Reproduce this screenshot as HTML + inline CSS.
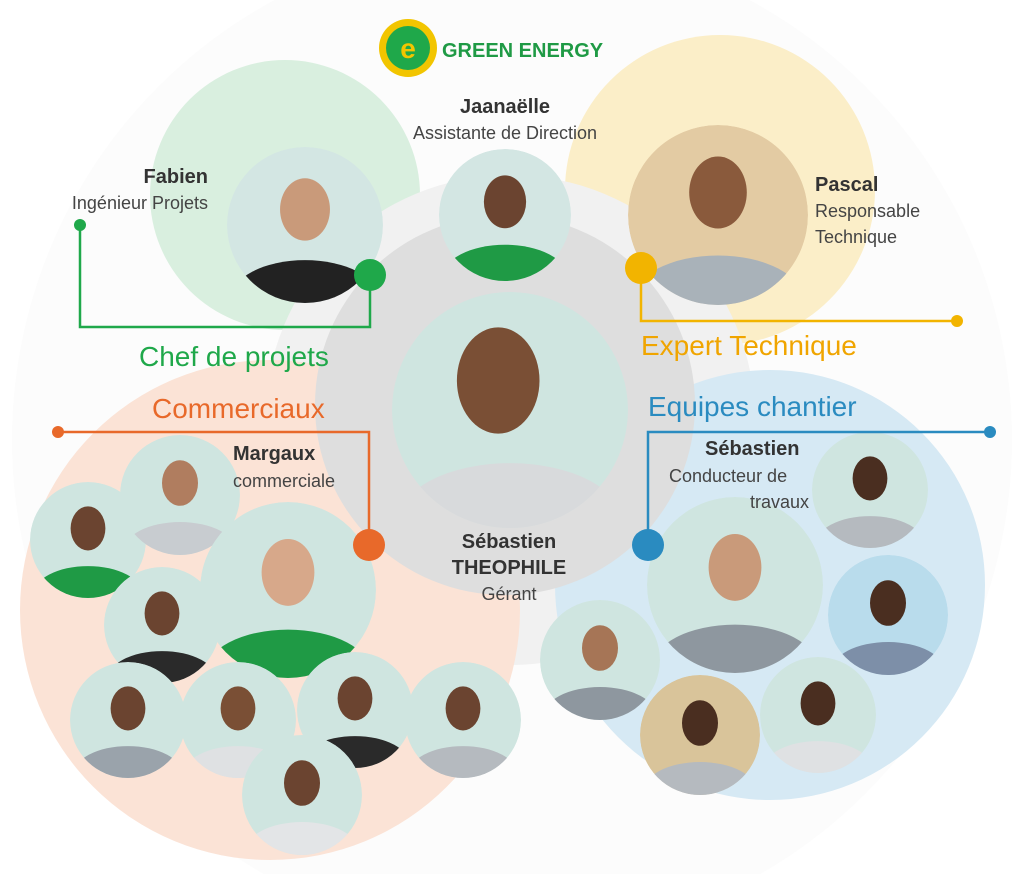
<!DOCTYPE html>
<html><head><meta charset="utf-8"><style>
html,body{margin:0;background:#fff;width:1024px;height:874px;overflow:hidden;}
svg{display:block;font-family:"Liberation Sans",sans-serif;}
.n{font-weight:bold;fill:#333;font-size:20px}
.r{fill:#444;font-size:18px}
</style></head><body>
<svg width="1024" height="874" viewBox="0 0 1024 874">
<defs>
<clipPath id="c"><circle r="1"/></clipPath>
</defs>
<rect width="1024" height="874" fill="#fff"/>
<circle cx="512" cy="440" r="500" fill="#fcfcfc"/>
<circle cx="285" cy="195" r="135" fill="#d9efdf"/>
<circle cx="720" cy="190" r="155" fill="#fbeec8"/>
<circle cx="510" cy="420" r="245" fill="#f1f1f1"/>
<circle cx="270" cy="610" r="250" fill="#fbe3d6"/>
<circle cx="770" cy="585" r="215" fill="#d6e9f4"/>
<circle cx="505" cy="405" r="190" fill="#dedede"/>

<g>
<g transform="translate(305,225) scale(78)"><g clip-path="url(#c)"><circle r="1" fill="#d3e6e3"/><ellipse cx="0" cy="-0.2" rx="0.32" ry="0.4" fill="#c99a7a"/><ellipse cx="0" cy="0.95" rx="0.95" ry="0.5" fill="#222"/></g></g>
<g transform="translate(505,215) scale(66)"><g clip-path="url(#c)"><circle r="1" fill="#d3e6e3"/><ellipse cx="0" cy="-0.2" rx="0.32" ry="0.4" fill="#6b4430"/><ellipse cx="0" cy="0.95" rx="0.95" ry="0.5" fill="#1f9a45"/></g></g>
<g transform="translate(718,215) scale(90)"><g clip-path="url(#c)"><circle r="1" fill="#e3cba3"/><ellipse cx="0" cy="-0.25" rx="0.32" ry="0.4" fill="#8a5a3c"/><ellipse cx="0" cy="0.95" rx="0.95" ry="0.5" fill="#a9b2b9"/></g></g>
<g transform="translate(510,410) scale(118)"><g clip-path="url(#c)"><circle r="1" fill="#cfe5e0"/><ellipse cx="-0.1" cy="-0.25" rx="0.35" ry="0.45" fill="#7a4f35"/><ellipse cx="0" cy="0.95" rx="0.95" ry="0.5" fill="#d8dadc"/></g></g>
</g>

<g id="team">
<g transform="translate(88,540) scale(58)"><g clip-path="url(#c)"><circle r="1" fill="#cfe5e0"/><ellipse cy="-0.2" rx="0.3" ry="0.38" fill="#6b4430"/><ellipse cy="0.95" rx="0.95" ry="0.5" fill="#1f9a45"/></g></g>
<g transform="translate(180,495) scale(60)"><g clip-path="url(#c)"><circle r="1" fill="#cfe5e0"/><ellipse cy="-0.2" rx="0.3" ry="0.38" fill="#b07d5f"/><ellipse cy="0.95" rx="0.95" ry="0.5" fill="#c8ccd0"/></g></g>
<g transform="translate(288,590) scale(88)"><g clip-path="url(#c)"><circle r="1" fill="#cfe5e0"/><ellipse cy="-0.2" rx="0.3" ry="0.38" fill="#d7a88a"/><ellipse cy="0.95" rx="0.95" ry="0.5" fill="#1f9a45"/></g></g>
<g transform="translate(162,625) scale(58)"><g clip-path="url(#c)"><circle r="1" fill="#cfe5e0"/><ellipse cy="-0.2" rx="0.3" ry="0.38" fill="#6b4430"/><ellipse cy="0.95" rx="0.95" ry="0.5" fill="#2a2a2a"/></g></g>
<g transform="translate(128,720) scale(58)"><g clip-path="url(#c)"><circle r="1" fill="#cfe5e0"/><ellipse cy="-0.2" rx="0.3" ry="0.38" fill="#6b4430"/><ellipse cy="0.95" rx="0.95" ry="0.5" fill="#9aa3ab"/></g></g>
<g transform="translate(238,720) scale(58)"><g clip-path="url(#c)"><circle r="1" fill="#cfe5e0"/><ellipse cy="-0.2" rx="0.3" ry="0.38" fill="#7a4f35"/><ellipse cy="0.95" rx="0.95" ry="0.5" fill="#dfe1e3"/></g></g>
<g transform="translate(355,710) scale(58)"><g clip-path="url(#c)"><circle r="1" fill="#cfe5e0"/><ellipse cy="-0.2" rx="0.3" ry="0.38" fill="#6b4430"/><ellipse cy="0.95" rx="0.95" ry="0.5" fill="#2a2a2a"/></g></g>
<g transform="translate(463,720) scale(58)"><g clip-path="url(#c)"><circle r="1" fill="#cfe5e0"/><ellipse cy="-0.2" rx="0.3" ry="0.38" fill="#6b4430"/><ellipse cy="0.95" rx="0.95" ry="0.5" fill="#b5babf"/></g></g>
<g transform="translate(302,795) scale(60)"><g clip-path="url(#c)"><circle r="1" fill="#cfe5e0"/><ellipse cy="-0.2" rx="0.3" ry="0.38" fill="#6b4430"/><ellipse cy="0.95" rx="0.95" ry="0.5" fill="#e3e5e7"/></g></g>
<g transform="translate(870,490) scale(58)"><g clip-path="url(#c)"><circle r="1" fill="#cfe5e0"/><ellipse cy="-0.2" rx="0.3" ry="0.38" fill="#4a2e20"/><ellipse cy="0.95" rx="0.95" ry="0.5" fill="#b5babf"/></g></g>
<g transform="translate(735,585) scale(88)"><g clip-path="url(#c)"><circle r="1" fill="#cfe5e0"/><ellipse cy="-0.2" rx="0.3" ry="0.38" fill="#c99a7a"/><ellipse cy="0.95" rx="0.95" ry="0.5" fill="#8e979f"/></g></g>
<g transform="translate(888,615) scale(60)"><g clip-path="url(#c)"><circle r="1" fill="#b9dcec"/><ellipse cy="-0.2" rx="0.3" ry="0.38" fill="#4a2e20"/><ellipse cy="0.95" rx="0.95" ry="0.5" fill="#7d8fa8"/></g></g>
<g transform="translate(600,660) scale(60)"><g clip-path="url(#c)"><circle r="1" fill="#cfe5e0"/><ellipse cy="-0.2" rx="0.3" ry="0.38" fill="#a67556"/><ellipse cy="0.95" rx="0.95" ry="0.5" fill="#8e979f"/></g></g>
<g transform="translate(700,735) scale(60)"><g clip-path="url(#c)"><circle r="1" fill="#d9c49a"/><ellipse cy="-0.2" rx="0.3" ry="0.38" fill="#4a2e20"/><ellipse cy="0.95" rx="0.95" ry="0.5" fill="#b5babf"/></g></g>
<g transform="translate(818,715) scale(58)"><g clip-path="url(#c)"><circle r="1" fill="#cfe5e0"/><ellipse cy="-0.2" rx="0.3" ry="0.38" fill="#4a2e20"/><ellipse cy="0.95" rx="0.95" ry="0.5" fill="#dfe1e3"/></g></g>
</g>

<g fill="none" stroke-width="2.5">
<polyline points="80,225 80,327 370,327 370,275" stroke="#1fa84a"/>
<polyline points="641,268 641,321 957,321" stroke="#f2b400"/>
<polyline points="369,545 369,432 58,432" stroke="#e8692a"/>
<polyline points="648,545 648,432 990,432" stroke="#2a8bc0"/>
</g>
<circle cx="80" cy="225" r="6" fill="#1fa84a"/><circle cx="370" cy="275" r="16" fill="#1fa84a"/>
<circle cx="957" cy="321" r="6" fill="#f2b400"/><circle cx="641" cy="268" r="16" fill="#f2b400"/>
<circle cx="58" cy="432" r="6" fill="#e8692a"/><circle cx="369" cy="545" r="16" fill="#e8692a"/>
<circle cx="990" cy="432" r="6" fill="#2a8bc0"/><circle cx="648" cy="545" r="16" fill="#2a8bc0"/>

<circle cx="408" cy="48" r="29" fill="#f2c500"/><circle cx="408" cy="48" r="22" fill="#1fa84a"/>
<text x="408" y="58" font-size="28" font-weight="bold" fill="#f2c500" text-anchor="middle">e</text>
<text x="442" y="57" font-size="20" font-weight="bold" fill="#1f9a45">GREEN ENERGY</text>

<text x="139" y="366" font-size="28" fill="#1fa84a">Chef de projets</text>
<text x="641" y="355" font-size="28" fill="#f0a500">Expert Technique</text>
<text x="152" y="418" font-size="28" fill="#e8692a">Commerciaux</text>
<text x="648" y="416" font-size="28" fill="#2a8bc0">Equipes chantier</text>

<text class="n" x="208" y="183" text-anchor="end">Fabien</text>
<text class="r" x="208" y="209" text-anchor="end">Ingénieur Projets</text>
<text class="n" x="505" y="113" text-anchor="middle">Jaanaëlle</text>
<text class="r" x="505" y="139" text-anchor="middle">Assistante de Direction</text>
<text class="n" x="815" y="191">Pascal</text>
<text class="r" x="815" y="217">Responsable</text>
<text class="r" x="815" y="243">Technique</text>
<text class="n" x="233" y="460">Margaux</text>
<text class="r" x="233" y="487">commerciale</text>
<text class="n" x="509" y="548" text-anchor="middle">Sébastien</text>
<text class="n" x="509" y="574" text-anchor="middle">THEOPHILE</text>
<text class="r" x="509" y="600" text-anchor="middle">Gérant</text>
<text class="n" x="705" y="455">Sébastien</text>
<text class="r" x="669" y="482">Conducteur de</text>
<text class="r" x="750" y="508">travaux</text>
</svg>
</body></html>
